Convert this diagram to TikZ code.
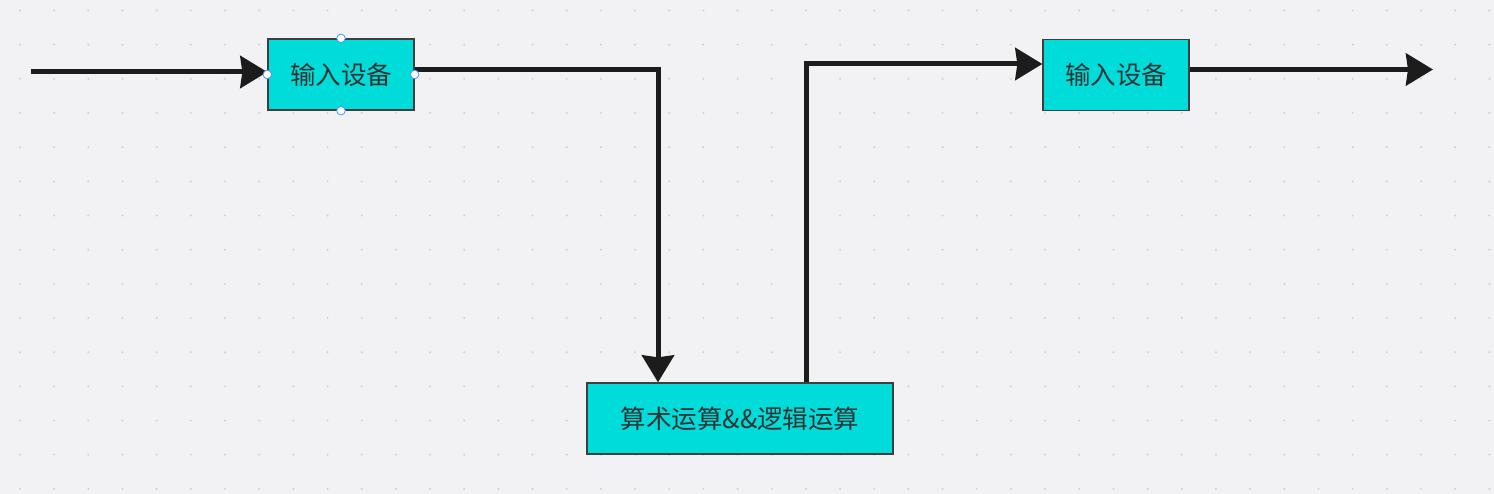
\documentclass[tikz,border=0pt]{standalone}
\usepackage{fontspec}
\setmainfont{Noto Sans CJK SC}
\usetikzlibrary{arrows.meta}
\definecolor{bgcol}{RGB}{242,242,245}
\definecolor{dotcol}{RGB}{208,208,210}
\definecolor{boxcol}{RGB}{0,220,218}
\definecolor{inkcol}{RGB}{28,28,28}
\definecolor{handlecol}{RGB}{70,150,255}
\begin{document}
\begin{tikzpicture}[x=1pt, y=-1pt,
    unit/.style={draw=inkcol!85, line width=1.3pt, fill=boxcol, text=inkcol!90,
      minimum height=71pt, inner sep=0pt, font=\fontsize{25.5}{30}\selectfont},
    wire/.style={draw=inkcol, line width=5pt},
    flow/.style={wire, -{Stealth[length=27pt, width=32pt, inset=2pt]}},
    handle/.style={circle, draw=handlecol, fill=white, line width=0.8pt,
      minimum size=8.5pt, inner sep=0pt}]
  \useasboundingbox (0,0) rectangle (1494,494);
  \fill[bgcol] (0,0) rectangle (1494,494);
  \foreach \i in {0,...,43}
    \foreach \j in {0,...,14}
      \fill[dotcol] (20+\i*34.17, 10.5+\j*34.17) circle (1.1);
  \node[unit, minimum width=146pt] (in1) at (341,74.5) {输入设备};
  \node[unit, minimum width=146pt] (in2) at (1116,74.8) {输入设备};
  \node[unit, minimum width=306pt] (alu) at (740,418.5) {算术运算\&\&逻辑运算};
  \coordinate (src) at (31,72);
  \coordinate (sink) at (1433,69.5);
  \draw[flow] (src) -- ([yshift=2.5pt]in1.west);
  \draw[flow] ([yshift=5pt]in1.east) -| ([xshift=-82pt]alu.north);
  \draw[flow] ([xshift=66pt]alu.north) |- ([yshift=10.8pt]in2.west);
  \draw[flow] ([yshift=5.3pt]in2.east) -- (sink);
  % selection handles
  \foreach \a in {north,south,east,west}
    \node[handle] at (in1.\a) {};
\end{tikzpicture}
\end{document}
